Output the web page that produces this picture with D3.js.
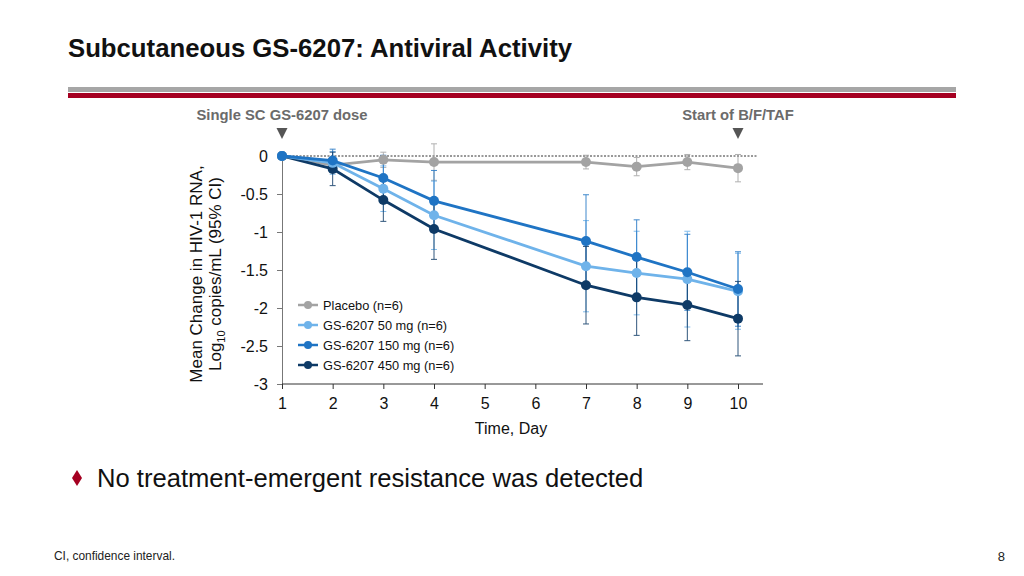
<!DOCTYPE html>
<html><head><meta charset="utf-8">
<script src="https://cdn.jsdelivr.net/npm/d3@7"></script>
<style>body{margin:0;background:#fff}svg{display:block}text{font-family:"Liberation Sans",Arial,sans-serif}</style>
</head><body>
<svg id="c" width="1024" height="576"></svg>
<script>
const days = [1, 2, 3, 4, 7, 8, 9, 10];
const xTicks = [1, 2, 3, 4, 5, 6, 7, 8, 9, 10];
const yTicks = [0, -0.5, -1, -1.5, -2, -2.5, -3];
const yTickLabels = ["0", "-0.5", "-1", "-1.5", "-2", "-2.5", "-3"];
const seriesNames = ["Placebo (n=6)", "GS-6207 50 mg (n=6)", "GS-6207 150 mg (n=6)", "GS-6207 450 mg (n=6)"];
const seriesColors = ["#a3a3a3", "#6fb3ea", "#1f74c4", "#0e3a66"];
const placebo = [0, -0.12, -0.05, -0.08, -0.08, -0.14, -0.08, -0.16];
const mg50 = [0, -0.09, -0.43, -0.78, -1.45, -1.54, -1.62, -1.78];
const mg150 = [0, -0.06, -0.29, -0.59, -1.12, -1.33, -1.53, -1.75];
const mg450 = [0, -0.17, -0.58, -0.96, -1.70, -1.86, -1.96, -2.14];
const ciPlacebo = [0, 0.10, 0.10, 0.24, 0.09, 0.12, 0.10, 0.18];
const ci50 = [0, 0.15, 0.30, 0.45, 0.60, 0.55, 0.63, 0.50];
const ci150 = [0, 0.15, 0.30, 0.40, 0.61, 0.49, 0.50, 0.49];
const ci450 = [0, 0.22, 0.28, 0.40, 0.51, 0.50, 0.47, 0.49];
const seriesValues = [placebo, mg50, mg150, mg450];
const seriesCI = [ciPlacebo, ci50, ci150, ci450];

const svg = d3.select("#c");

// Title
svg.append("text").attr("x", 68).attr("y", 57)
  .attr("font-weight", "bold").attr("font-size", 26.5).attr("fill", "#111")
  .attr("textLength", 504).attr("lengthAdjust", "spacingAndGlyphs")
  .text("Subcutaneous GS-6207: Antiviral Activity");
svg.append("rect").attr("x", 68).attr("y", 87).attr("width", 888).attr("height", 5).attr("fill", "#a6a6a6");
svg.append("rect").attr("x", 68).attr("y", 93).attr("width", 888).attr("height", 5).attr("fill", "#a50021");

const x = d3.scaleLinear().domain([1, 10]).range([282, 738]);
const y = d3.scaleLinear().domain([-3, 0]).range([384, 156]);

// Annotations
const annos = [{d: 1, t: "Single SC GS-6207 dose"}, {d: 10, t: "Start of B/F/TAF"}];
annos.forEach(a => {
  svg.append("text").attr("x", x(a.d)).attr("y", 120).attr("text-anchor", "middle")
    .attr("font-weight", "bold").attr("font-size", 14.8).attr("fill", "#6b6b6b").text(a.t);
  const cx = x(a.d);
  svg.append("path").attr("d", `M${cx-5.5},128L${cx+5.5},128L${cx},139Z`).attr("fill", "#555");
});

// zero dotted line
svg.append("line").attr("x1", x(1)).attr("x2", 758).attr("y1", y(0)).attr("y2", y(0))
  .attr("stroke", "#333").attr("stroke-width", 1).attr("stroke-dasharray", "2,1.5");

// axes
const yAxis = d3.axisLeft(y).tickValues(yTicks).tickFormat((d, i) => yTickLabels[i]).tickSize(5).tickSizeOuter(0);
const gy = svg.append("g").attr("transform", `translate(${x(1)},0)`).call(yAxis);
gy.select(".domain").attr("stroke", "#777");
gy.selectAll(".tick line").attr("stroke", "#777");
gy.selectAll(".tick text").attr("font-size", 16).attr("fill", "#111").attr("x", -14).attr("dy", "0.35em")
  .attr("font-family", "'Liberation Sans',Arial,sans-serif");

const gx = svg.append("g").attr("transform", `translate(0,${y(-3)})`)
  .call(d3.axisBottom(x).tickValues(xTicks).tickFormat(d3.format("d")).tickSize(5).tickSizeOuter(0));
gx.select(".domain").attr("d", `M${x(1)},0H763`).attr("stroke", "#333");
gx.selectAll(".tick line").attr("stroke", "#333");
gx.selectAll(".tick text").attr("font-size", 16).attr("fill", "#111").attr("y", 14)
  .attr("font-family", "'Liberation Sans',Arial,sans-serif");

svg.append("text").attr("x", 511).attr("y", 434).attr("text-anchor", "middle")
  .attr("font-size", 16).attr("fill", "#111").text("Time, Day");

// y label
const yl = svg.append("text").attr("transform", "translate(202,274) rotate(-90)")
  .attr("text-anchor", "middle").attr("font-size", 17).attr("fill", "#111");
yl.append("tspan").attr("x", 0).attr("y", 0).text("Mean Change in HIV-1 RNA,");
const t2 = yl.append("tspan").attr("x", 0).attr("y", 19);
t2.append("tspan").text("Log");
t2.append("tspan").attr("font-size", 11).attr("dy", 4).text("10");
t2.append("tspan").attr("dy", -4).text(" copies/mL (95% CI)");

// error bars
seriesValues.forEach((vals, si) => {
  const g = svg.append("g").attr("stroke", seriesColors[si]).attr("stroke-width", 1).attr("opacity", 0.85);
  vals.forEach((v, i) => {
    const hw = seriesCI[si][i];
    if (hw <= 0) return;
    const cx = x(days[i]), y1 = y(v + hw), y2 = y(v - hw);
    g.append("line").attr("x1", cx).attr("x2", cx).attr("y1", y1).attr("y2", y2);
    g.append("line").attr("x1", cx - 3).attr("x2", cx + 3).attr("y1", y1).attr("y2", y1);
    g.append("line").attr("x1", cx - 3).attr("x2", cx + 3).attr("y1", y2).attr("y2", y2);
  });
});

// lines and markers
const line = d3.line().x((d, i) => x(days[i])).y(d => y(d));
const order = [0, 3, 1, 2];
order.forEach(si => {
  const vals = seriesValues[si];
  svg.append("path").attr("d", line(vals)).attr("fill", "none")
    .attr("stroke", seriesColors[si]).attr("stroke-width", 2.8);
  svg.append("g").selectAll("circle").data(vals).join("circle")
    .attr("cx", (d, i) => x(days[i])).attr("cy", d => y(d)).attr("r", 5)
    .attr("fill", seriesColors[si]);
});

// legend
seriesNames.forEach((n, i) => {
  const ly = 305 + i * 20;
  svg.append("line").attr("x1", 298).attr("x2", 318).attr("y1", ly).attr("y2", ly)
    .attr("stroke", seriesColors[i]).attr("stroke-width", 2.5);
  svg.append("circle").attr("cx", 308).attr("cy", ly).attr("r", 4).attr("fill", seriesColors[i]);
  svg.append("text").attr("x", 323).attr("y", ly + 4.5).attr("font-size", 12.8).attr("fill", "#111").text(n);
});

// bullet
svg.append("path").attr("d", "M77,470L82,478L77,486L72,478Z").attr("fill", "#a50021");
svg.append("text").attr("x", 97).attr("y", 487).attr("font-size", 25.6).attr("fill", "#111")
  .text("No treatment-emergent resistance was detected");

svg.append("text").attr("x", 54).attr("y", 560).attr("font-size", 11.9).attr("fill", "#222").text("CI, confidence interval.");
svg.append("text").attr("x", 1005).attr("y", 561).attr("text-anchor", "end").attr("font-size", 13).attr("fill", "#222").text("8");
</script>
</body></html>
